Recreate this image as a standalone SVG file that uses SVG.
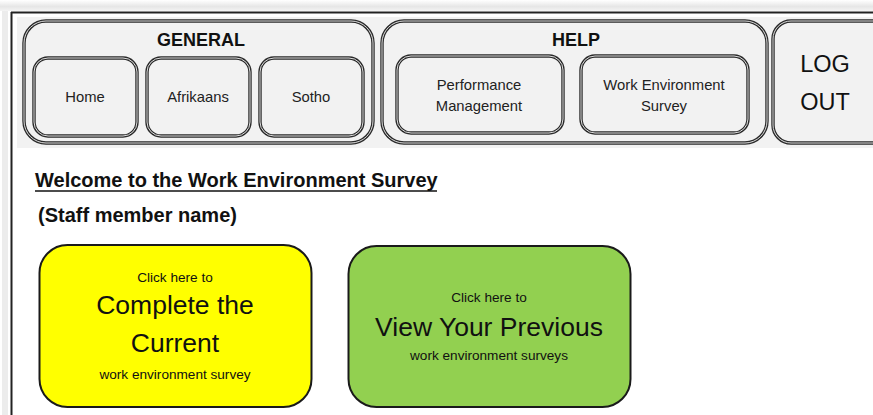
<svg xmlns="http://www.w3.org/2000/svg" width="873" height="415" viewBox="0 0 873 415">
<defs>
<linearGradient id="shadowTop" x1="0" y1="0" x2="0" y2="1">
<stop offset="0" stop-color="#ffffff"/>
<stop offset="0.6" stop-color="#e6e6e6"/>
<stop offset="1" stop-color="#f4f4f4"/>
</linearGradient>
<style>
text{font-family:"Liberation Sans",Arial,sans-serif;fill:#111;text-anchor:middle}
.dbl{fill:#f2f2f2;stroke:#2a2a2a;stroke-width:3.4}
.dblin{fill:none;stroke:#f2f2f2;stroke-width:0.9}
.title{font-weight:bold;font-size:18px}
.nav{font-size:14.8px;fill:#222}
.big{font-size:26.5px}
.small{font-size:13.6px}
.head{font-weight:bold;font-size:20px;text-anchor:start}
.btn{stroke:#1a1a1a;stroke-width:2}
</style>
</defs>
<rect x="0" y="0" width="873" height="415" fill="#ffffff"/>
<rect x="0" y="0" width="873" height="11" fill="url(#shadowTop)"/>
<rect x="2" y="11" width="6" height="404" fill="#ececec"/>
<!-- page frame -->
<rect x="17" y="17" width="856" height="131" fill="#f2f2f2"/>
<line x1="11" y1="12.5" x2="873" y2="12.5" stroke="#222" stroke-width="2"/>
<line x1="11.5" y1="12" x2="11.5" y2="415" stroke="#222" stroke-width="2"/>

<g id="general">
<rect class="dbl" x="24" y="21" width="349" height="122" rx="22"/>
<rect class="dblin" x="24" y="21" width="349" height="122" rx="22"/>
<text class="title" x="201" y="46">GENERAL</text>
</g>
<g id="home">
<rect class="dbl" x="34" y="58" width="103" height="78" rx="14"/>
<rect class="dblin" x="34" y="58" width="103" height="78" rx="14"/>
<text class="nav" x="85" y="102">Home</text>
</g>
<g id="afrikaans">
<rect class="dbl" x="147" y="58" width="103" height="78" rx="14"/>
<rect class="dblin" x="147" y="58" width="103" height="78" rx="14"/>
<text class="nav" x="198" y="102">Afrikaans</text>
</g>
<g id="sotho">
<rect class="dbl" x="260" y="58" width="103" height="78" rx="14"/>
<rect class="dblin" x="260" y="58" width="103" height="78" rx="14"/>
<text class="nav" x="311" y="102">Sotho</text>
</g>

<g id="help">
<rect class="dbl" x="382" y="21" width="385" height="122" rx="22"/>
<rect class="dblin" x="382" y="21" width="385" height="122" rx="22"/>
<text class="title" x="576" y="46">HELP</text>
</g>
<g id="performance">
<rect class="dbl" x="397" y="56" width="166" height="77" rx="14"/>
<rect class="dblin" x="397" y="56" width="166" height="77" rx="14"/>
<text class="nav" x="479" y="90">Performance</text>
<text class="nav" x="479" y="111">Management</text>
</g>
<g id="wes">
<rect class="dbl" x="581" y="56" width="167" height="77" rx="14"/>
<rect class="dblin" x="581" y="56" width="167" height="77" rx="14"/>
<text class="nav" x="664" y="90">Work Environment</text>
<text class="nav" x="664" y="111">Survey</text>
</g>

<g id="logout">
<rect class="dbl" x="773" y="21" width="120" height="122" rx="18"/>
<rect class="dblin" x="773" y="21" width="120" height="122" rx="18"/>
<text x="825" y="72" font-size="23.5">LOG</text>
<text x="825" y="110" font-size="23.5">OUT</text>
</g>

<g id="welcome">
<text class="head" x="35" y="187">Welcome to the Work Environment Survey</text>
<line x1="35" y1="191" x2="437" y2="191" stroke="#111" stroke-width="1.4"/>
</g>
<g id="staffname">
<text class="head" x="38" y="222">(Staff member name)</text>
</g>

<g id="complete">
<rect class="btn" x="39.5" y="245" width="272" height="162" rx="28" fill="#ffff00"/>
<text class="small" x="175" y="282">Click here to</text>
<text class="big" x="175" y="314">Complete the</text>
<text class="big" x="175" y="352">Current</text>
<text class="small" x="175" y="379">work environment survey</text>
</g>

<g id="previous">
<rect class="btn" x="348.5" y="246" width="282" height="161" rx="28" fill="#92d050"/>
<text class="small" x="489" y="302">Click here to</text>
<text class="big" x="489" y="336">View Your Previous</text>
<text class="small" x="489" y="360">work environment surveys</text>
</g>
<g id="connectors"/>
</svg>
